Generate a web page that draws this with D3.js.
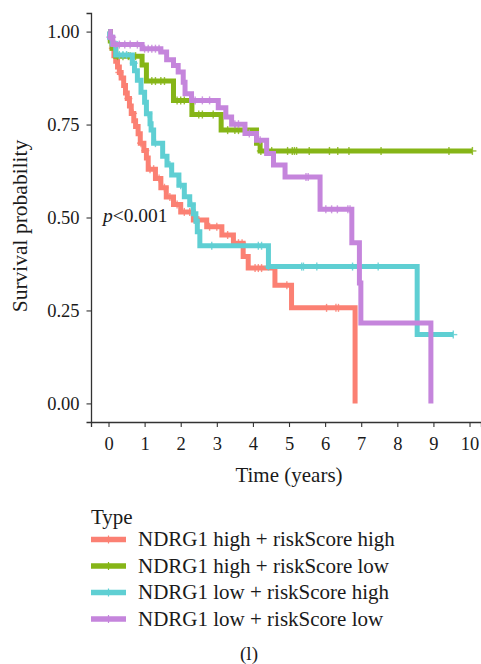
<!DOCTYPE html>
<html>
<head>
<meta charset="utf-8">
<script src="https://cdn.jsdelivr.net/npm/d3@7"></script>
<style>
  body { margin: 0; background: #fff; }
  text { font-family: "Liberation Serif", "Times New Roman", serif; fill: #1a1a1a; }
</style>
</head>
<body>
<div id="chart"></div>
<script>
// legend labels, in drawing order
var groups = ["NDRG1 high + riskScore high", "NDRG1 high + riskScore low",
              "NDRG1 low + riskScore high", "NDRG1 low + riskScore low"];
var colors = ["#fb8073", "#86b517", "#5fcfd3", "#c585dc"];

// step curves: [time, survival from this time on]
var highHigh = [[0,1],[0.05,0.98],[0.1,0.955],[0.15,0.935],[0.2,0.92],[0.25,0.905],[0.3,0.89],
  [0.35,0.875],[0.42,0.855],[0.47,0.835],[0.52,0.82],[0.58,0.80],[0.63,0.78],[0.7,0.76],
  [0.75,0.745],[0.82,0.725],[0.88,0.70],[0.98,0.68],[1.05,0.66],[1.1,0.63],[1.3,0.605],
  [1.45,0.58],[1.6,0.555],[1.8,0.535],[2.0,0.515],[2.35,0.493],[2.72,0.475],[3.14,0.453],
  [3.46,0.431],[3.73,0.395],[3.87,0.364],[4.61,0.318],[5.07,0.257],[6.83,0]];
var highLow = [[0,1],[0.05,0.975],[0.1,0.955],[0.2,0.934],[0.93,0.91],[1.05,0.867],
  [1.8,0.815],[2.31,0.777],[3.12,0.735],[4.1,0.70],[4.2,0.679]];
var lowHigh = [[0,1],[0.03,0.985],[0.1,0.967],[0.2,0.937],[0.66,0.915],[0.72,0.895],
  [0.8,0.869],[0.9,0.837],[1.0,0.81],[1.05,0.779],[1.15,0.752],[1.18,0.735],[1.25,0.70],
  [1.5,0.665],[1.62,0.641],[1.75,0.614],[1.95,0.587],[2.1,0.556],[2.25,0.534],[2.35,0.51],
  [2.42,0.49],[2.46,0.462],[2.53,0.424],[4.43,0.368],[8.55,0.185]];
var lowLow = [[0,1],[0.05,0.985],[0.12,0.965],[0.93,0.954],[1.45,0.945],[1.61,0.924],
  [1.8,0.909],[1.93,0.891],[2.07,0.864],[2.12,0.833],[2.3,0.815],[3.04,0.795],[3.25,0.77],
  [3.41,0.751],[3.78,0.726],[4.1,0.708],[4.38,0.672],[4.57,0.641],[4.89,0.609],
  [5.86,0.522],[6.74,0.432],[6.95,0.324],[6.99,0.216],[8.93,0]];

// last follow-up time of each group
var endTimes = [6.83, 10.08, 9.55, 8.93];

// censored times (+ marks)
var censHighHigh = [0.12,0.3,0.55,0.68,0.9,1.02,1.15,1.25,1.4,1.55,1.7,1.9,2.1,2.25,2.4,2.45,
  2.5,2.8,3.0,3.3,3.6,3.7,4.06,4.15,4.24,4.94,6.04,6.3,6.37];
var censHighLow = [0.25,0.4,0.55,0.6,0.75,1.2,1.3,1.45,1.55,1.9,2.0,2.1,2.5,2.6,2.9,3.3,3.5,
  3.6,3.8,4.22,4.52,4.96,5.09,5.15,5.21,5.56,6.12,6.35,6.66,7.55,9.43,10.08];
var censLowHigh = [0.3,0.4,0.5,0.7,1.1,1.3,1.7,2.0,2.3,2.86,4.15,4.24,4.43,5.35,5.4,5.77,
  6.76,7.47,9.55];
var censLowLow = [0.05,0.1,0.2,0.3,0.45,0.6,0.8,1.0,1.1,1.2,1.3,1.4,2.4,2.6,2.8,3.5,3.6,3.9,
  4.2,5.47,5.53,6.02,6.18,6.34,6.63,6.69];

var curves = [highHigh, highLow, lowHigh, lowLow];
var censors = [censHighHigh, censHighLow, censLowHigh, censLowLow];

var xTicks = [0,1,2,3,4,5,6,7,8,9,10];
var yTicks = [0, 0.25, 0.5, 0.75, 1];

var width = 481, height = 664;

var svg = d3.select("#chart").append("svg")
  .attr("width", width).attr("height", height);

var x = d3.scaleLinear().domain([-0.485, 10.318]).range([91, 481]);
var y = d3.scaleLinear().domain([-0.05, 1.05]).range([422, 13]);

// axes
var xAxis = svg.append("g").attr("transform", "translate(0,422)")
  .call(d3.axisBottom(x).tickValues(xTicks).tickFormat(d3.format("d")).tickSize(5).tickPadding(6));
var yAxis = svg.append("g").attr("transform", "translate(91,0)")
  .call(d3.axisLeft(y).tickValues(yTicks).tickFormat(d3.format(".2f")).tickSize(4.5).tickPadding(7));

[xAxis, yAxis].forEach(function(a) {
  a.select(".domain").attr("stroke", "#333").attr("stroke-width", 1.3);
  a.selectAll(".tick line").attr("stroke", "#333").attr("stroke-width", 1.1);
  a.selectAll(".tick text").attr("font-size", 18.5).attr("fill", "#1a1a1a")
    .style("font-family", "Liberation Serif, serif");
});
xAxis.selectAll(".tick text").attr("dy", "0.9em");

// survival value at time t
function survAt(c, t) {
  var s = 1;
  for (var i = 0; i < c.length; i++) { if (c[i][0] <= t) s = c[i][1]; }
  return s;
}

var line = d3.line()
  .x(function(d) { return x(d[0]); })
  .y(function(d) { return y(d[1]); })
  .curve(d3.curveStepAfter);

curves.forEach(function(c, i) {
  var pts = c.slice();
  var last = pts[pts.length - 1];
  if (last[0] < endTimes[i]) pts.push([endTimes[i], last[1]]);
  svg.append("path")
    .attr("d", line(pts))
    .attr("fill", "none")
    .attr("stroke", colors[i])
    .attr("stroke-width", 5)
    .attr("stroke-linejoin", "miter");

  var g = svg.append("g").attr("stroke", colors[i]).attr("stroke-width", 1.4).attr("opacity", 0.85);
  censors[i].forEach(function(t) {
    var cx = x(t), cy = y(survAt(c, t));
    g.append("line").attr("x1", cx).attr("x2", cx).attr("y1", cy - 4).attr("y2", cy + 4);
    g.append("line").attr("x1", cx - 4).attr("x2", cx + 4).attr("y1", cy).attr("y2", cy);
  });
});

// p value
var pText = svg.append("text").attr("x", 103).attr("y", 222).attr("font-size", 19.5);
pText.append("tspan").attr("font-style", "italic").text("p");
pText.append("tspan").text("<0.001");

// axis titles
svg.append("text").attr("x", 289).attr("y", 482).attr("text-anchor", "middle")
  .attr("font-size", 21).text("Time (years)");
svg.append("text").attr("transform", "translate(27,226) rotate(-90)")
  .attr("text-anchor", "middle").attr("font-size", 21.5).text("Survival probability");

// legend
svg.append("text").attr("x", 91).attr("y", 524).attr("font-size", 21).text("Type");
groups.forEach(function(name, i) {
  var cy = 539.5 + i * 26.5;
  svg.append("line").attr("x1", 91).attr("x2", 126).attr("y1", cy).attr("y2", cy)
    .attr("stroke", colors[i]).attr("stroke-width", 5.5);
  svg.append("line").attr("x1", 108.5).attr("x2", 108.5).attr("y1", cy - 4).attr("y2", cy + 4)
    .attr("stroke", colors[i]).attr("stroke-width", 1.2);
  svg.append("text").attr("x", 138).attr("y", cy + 6.5).attr("font-size", 21).text(name);
});

svg.append("text").attr("x", 249).attr("y", 660).attr("text-anchor", "middle")
  .attr("font-size", 19).text("(l)");
</script>
</body>
</html>
